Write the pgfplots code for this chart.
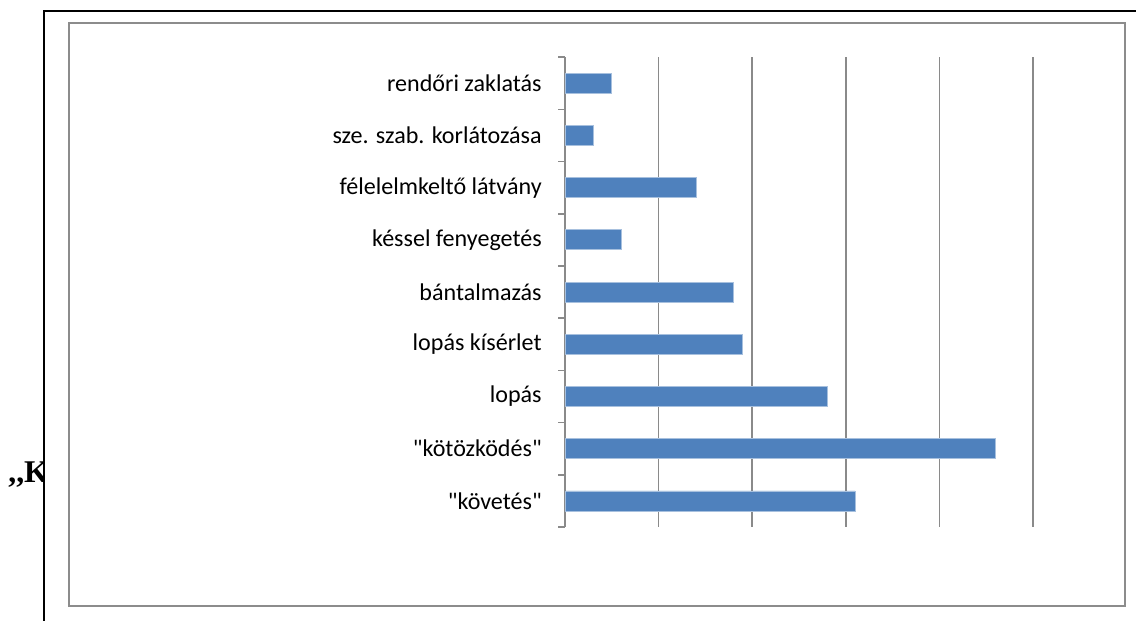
\documentclass[border=0pt]{standalone}
\usepackage{pgfplots}
\pgfplotsset{compat=1.18}
\usepackage{fontspec}
\setmainfont{Carlito}[Ligatures=TeXOff]
\newfontfamily\serifb{Liberation Serif}
\definecolor{barblue}{HTML}{4F81BD}
\definecolor{baredge}{HTML}{A7C0DE}
\definecolor{gridgray}{HTML}{8A8A8A}
\definecolor{framegray}{HTML}{8C8C8C}

\begin{document}
\begin{tikzpicture}[x=0.02cm, y=0.02cm]
\path[use as bounding box] (0,0) rectangle (1136,621);
\coordinate (plotSW) at (565,94);

% text of the page behind the chart, cut by the frame
\begin{scope}
\clip (0,0) rectangle (44,621);
\node[anchor=base west, inner sep=0pt, font=\serifb\bfseries\fontsize{18}{21}\selectfont] at (8,138) {,,K};
\end{scope}

% outer page frame
\draw[line width=1.1pt, black] (44,0) -- (44,610) -- (1136,610);

% chart area frame
\draw[line width=1.1pt, framegray, fill=white] (69,15) rectangle (1125,598);

\begin{axis}[
  at={(plotSW)}, anchor=south west,
  scale only axis,
  width=9.36cm, height=9.4cm,
  xbar,
  bar width=0.4cm,
  xmin=0, xmax=50,
  xtick={0,10,...,50},
  xticklabels={},
  xmajorgrids=true,
  grid style={gridgray, line width=0.9pt},
  ymin=-0.5, ymax=8.5,
  ytick={0,...,8},
  yticklabels={"követés", "kötözködés", lopás, lopás kísérlet, bántalmazás, késsel fenyegetés, félelelmkeltő látvány, sze. szab. korlátozása, rendőri zaklatás},
  minor ytick={-0.5,0.5,...,8.5},
  major tick length=0pt,
  minor tick length=0.14cm,
  tick align=outside,
  minor tick style={gridgray, line width=0.9pt},
  axis lines*=left,
  x axis line style={draw=none},
  y axis line style={gridgray, line width=0.9pt},
  y tick label style={font=\fontsize{13.7}{16}\selectfont, anchor=east, inner sep=0pt, xshift=-0.46cm},
]
\addplot[fill=barblue, draw=baredge, line width=0.4pt] coordinates {
  (31,0) (46,1) (28,2) (19,3) (18,4) (6,5) (14,6) (3,7) (5,8)
};
\end{axis}
\end{tikzpicture}
\end{document}
